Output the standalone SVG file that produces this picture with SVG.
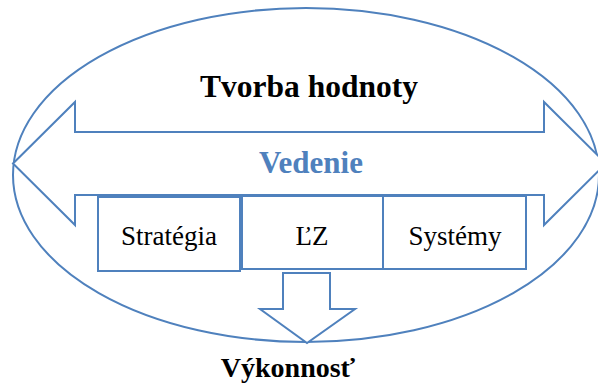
<svg xmlns="http://www.w3.org/2000/svg" width="598" height="385" viewBox="0 0 598 385">
<style>
.ln{fill:#fff;stroke:#4F81BD;stroke-width:2}
.t{font-family:"Liberation Serif","Times New Roman",serif;text-anchor:middle}
.b{font-weight:bold}
</style>
<rect width="598" height="385" fill="#fff"/>
<g id="ellipse"><ellipse class="ln" cx="306" cy="175" rx="293" ry="167"/></g>
<g id="connectors">
<polygon id="double-arrow" class="ln" points="13,163.5 75,102 75,132 544,132 544,102 606,163.5 544,225 544,195 75,195 75,225"/>
<polygon id="down-arrow" class="ln" points="283,273 330,273 330,309 355,309 307,343 260,309 283,309"/>
</g>
<g id="tvorba"><text class="t b" x="309" y="97" font-size="31.5">Tvorba hodnoty</text></g>
<g id="vedenie"><text class="t b" x="311" y="173" font-size="31" fill="#4F81BD">Vedenie</text></g>
<g id="strategia"><rect class="ln" x="98" y="197" width="142" height="74"/><text class="t" x="169" y="245" font-size="27">Stratégia</text></g>
<g id="lz"><rect class="ln" x="242" y="196" width="141" height="73"/><text class="t" x="312" y="245" font-size="27">ĽZ</text></g>
<g id="systemy"><rect class="ln" x="383" y="196" width="143" height="73"/><text class="t" x="455" y="245" font-size="27">Systémy</text></g>
<g id="vykonnost"><text class="t b" x="288" y="377" font-size="28">Výkonnosť</text></g>
</svg>
